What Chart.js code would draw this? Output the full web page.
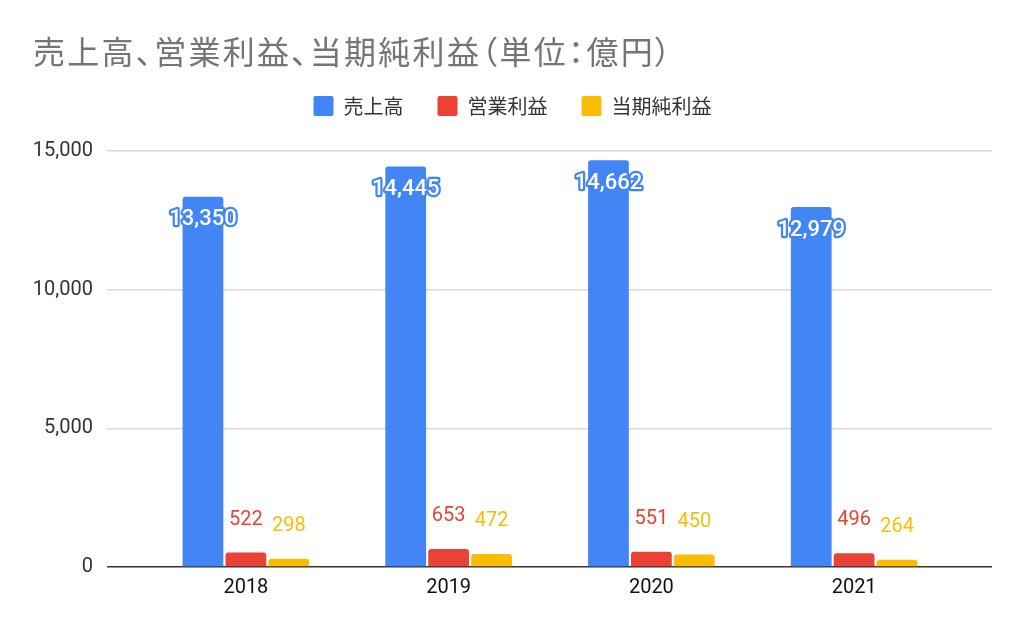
<!DOCTYPE html>
<html lang="ja">
<head>
<meta charset="utf-8">
<title>売上高、営業利益、当期純利益</title>
<script src="https://cdn.jsdelivr.net/npm/chart.js@4.4.1/dist/chart.umd.min.js"></script>
<style>
  html, body { margin: 0; padding: 0; background: #fff; }
  .chart-wrap { position: relative; width: 1024px; height: 633px; }
  .chart-title {
    position: absolute; left: 33px; top: 34px; margin: 0;
    font: 400 32px/32px 'Noto Sans CJK JP', sans-serif;
    color: #757575; letter-spacing: 2.3px;
    font-feature-settings: 'palt';
    white-space: nowrap;
  }
  canvas { display: block; }
</style>
</head>
<body>
<div class="chart-wrap">
  <h1 class="chart-title">売上高、営業利益、当期純利益（単位：億円）</h1>
  <canvas id="chart-sales" width="1024" height="633"></canvas>
</div>
<script>
// データ（単位：億円）
const years = ['2018', '2019', '2020', '2021'];
const salesValues = [13350, 14445, 14662, 12979];
const operatingProfitValues = [522, 653, 551, 496];
const netIncomeValues = [298, 472, 450, 264];
const yTicks = [0, 5000, 10000, 15000];

const palette = {
  blue: '#4285F4',
  red: '#EA4335',
  yellow: '#FBBC04',
  grid: '#d9d9d9',
  axis: '#333333'
};

const fmt = (v) => v.toLocaleString('en-US');
const toPoints = (values) => values.map((v, i) => ({ x: i, y: v }));

// 凡例の下に余白を足す
const legendSpacer = {
  id: 'legendSpacer',
  beforeInit(chart) {
    const origFit = chart.legend.fit;
    chart.legend.fit = function () {
      origFit.call(this);
      this.height += 25;
    };
  }
};

// 棒の数値ラベル
const barLabels = {
  id: 'barLabels',
  afterDatasetsDraw(chart) {
    const ctx = chart.ctx;
    ctx.save();
    ctx.textAlign = 'center';
    ctx.textBaseline = 'middle';
    chart.data.datasets.forEach((ds, di) => {
      const meta = chart.getDatasetMeta(di);
      meta.data.forEach((bar, i) => {
        const text = fmt(ds.data[i].y);
        if (di === 0) {
          ctx.font = '500 22px Roboto';
          ctx.lineJoin = 'round';
          ctx.lineWidth = 4.5;
          ctx.strokeStyle = palette.blue;
          ctx.strokeText(text, bar.x, bar.y + 23);
          ctx.fillStyle = '#ffffff';
          ctx.fillText(text, bar.x, bar.y + 23);
        } else {
          ctx.font = '20px Roboto';
          ctx.fillStyle = ds.backgroundColor;
          ctx.fillText(text, bar.x, bar.y - 33);
        }
      });
    });
    ctx.restore();
  }
};

const barCommon = {
  borderRadius: 3,
  borderSkipped: 'start',
  categoryPercentage: 0.635,
  barPercentage: 0.95
};

new Chart(document.getElementById('chart-sales'), {
  type: 'bar',
  data: {
    datasets: [
      { label: '売上高', data: toPoints(salesValues), backgroundColor: palette.blue, ...barCommon },
      { label: '営業利益', data: toPoints(operatingProfitValues), backgroundColor: palette.red, ...barCommon },
      { label: '当期純利益', data: toPoints(netIncomeValues), backgroundColor: palette.yellow, ...barCommon }
    ]
  },
  options: {
    responsive: false,
    animation: false,
    layout: { padding: { top: 62, left: 33, right: 32, bottom: 34 } },
    plugins: {
      title: { display: false },
      tooltip: { enabled: false },
      legend: {
        position: 'top',
        align: 'center',
        labels: {
          boxWidth: 20,
          boxHeight: 20,
          padding: 34,
          useBorderRadius: true,
          borderRadius: 2,
          color: '#333333',
          font: { family: "'Noto Sans CJK JP', sans-serif", size: 20 }
        }
      }
    },
    scales: {
      x: {
        type: 'linear',
        offset: false,
        min: -0.685,
        max: 3.68,
        grid: { display: false, drawTicks: false },
        border: { display: false },
        afterBuildTicks: (scale) => { scale.ticks = years.map((_, i) => ({ value: i })); },
        afterFit: (scale) => { scale.height = 32; },
        ticks: {
          padding: 9,
          color: '#111111',
          font: { family: 'Roboto', size: 20 },
          callback: (v) => years[v]
        }
      },
      y: {
        min: 0,
        max: 15000,
        grid: {
          drawTicks: false,
          color: (c) => (c.tick && c.tick.value === 0 ? palette.axis : palette.grid),
          lineWidth: 1.5
        },
        border: { display: false },
        afterBuildTicks: (scale) => { scale.ticks = yTicks.map((v) => ({ value: v })); },
        afterFit: (scale) => { scale.width = 74; },
        ticks: {
          padding: 14,
          color: '#333333',
          font: { family: 'Roboto', size: 20 },
          callback: (v) => fmt(v)
        }
      }
    }
  },
  plugins: [legendSpacer, barLabels]
});
</script>
</body>
</html>
